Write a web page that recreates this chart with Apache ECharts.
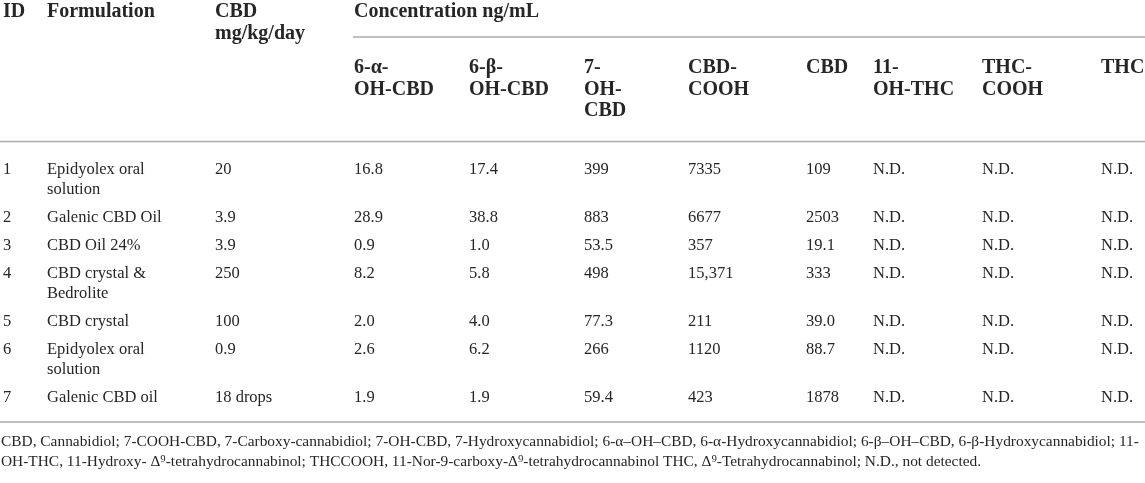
<!DOCTYPE html>
<html>
<head>
<meta charset="utf-8">
<script src="https://cdn.jsdelivr.net/npm/echarts@6/dist/echarts.min.js"></script>
<style>
  html, body { margin: 0; padding: 0; background: #fff; }
  #chart { width: 1145px; height: 483px; }
</style>
</head>
<body>
<div id="chart"></div>
<script>
// table content
const ids = ['1', '2', '3', '4', '5', '6', '7'];
const formulations = ['Epidyolex oral solution', 'Galenic CBD Oil', 'CBD Oil 24%', 'CBD crystal & Bedrolite',
    'CBD crystal', 'Epidyolex oral solution', 'Galenic CBD oil'];
const doses = ['20', '3.9', '3.9', '250', '100', '0.9', '18 drops'];
const alphaOhCbd = ['16.8', '28.9', '0.9', '8.2', '2.0', '2.6', '1.9'];
const betaOhCbd = ['17.4', '38.8', '1.0', '5.8', '4.0', '6.2', '1.9'];
const ohCbd7 = ['399', '883', '53.5', '498', '77.3', '266', '59.4'];
const cbdCooh = ['7335', '6677', '357', '15,371', '211', '1120', '423'];
const cbd = ['109', '2503', '19.1', '333', '39.0', '88.7', '1878'];
const ohThc11 = ['N.D.', 'N.D.', 'N.D.', 'N.D.', 'N.D.', 'N.D.', 'N.D.'];
const thcCooh = ['N.D.', 'N.D.', 'N.D.', 'N.D.', 'N.D.', 'N.D.', 'N.D.'];
const thc = ['N.D.', 'N.D.', 'N.D.', 'N.D.', 'N.D.', 'N.D.', 'N.D.'];

const topHeaders = ['ID', 'Formulation', 'CBD\nmg/kg/day', 'Concentration ng/mL'];
const subHeaders = ['6-α-\nOH-CBD', '6-β-\nOH-CBD', '7-\nOH-\nCBD', 'CBD-\nCOOH', 'CBD', '11-\nOH-THC', 'THC-\nCOOH', 'THC'];
const footnotes = [
    'CBD, Cannabidiol; 7-COOH-CBD, 7-Carboxy-cannabidiol; 7-OH-CBD, 7-Hydroxycannabidiol; 6-α–OH–CBD, 6-α-Hydroxycannabidiol; 6-β–OH–CBD, 6-β-Hydroxycannabidiol; 11-',
    'OH-THC, 11-Hydroxy- Δ⁹-tetrahydrocannabinol; THCCOOH, 11-Nor-9-carboxy-Δ⁹-tetrahydrocannabinol THC, Δ⁹-Tetrahydrocannabinol; N.D., not detected.'
];

// layout (pixels in the hidden axis space)
const colX = [3, 47, 215, 354, 469, 584, 688, 806, 873, 982, 1101];
const rowLines = [2, 1, 1, 2, 1, 2, 1];
const lineH = 20;
const rowGap = 28;
const firstRowY = 170;
const headLineH = 21.5;

const fontFamily = '"Liberation Serif", "Times New Roman", serif';
const ink = '#262626';
const ruleColor = '#ababab';

const columns = [ids, formulations, doses, alphaOhCbd, betaOhCbd, ohCbd7, cbdCooh, cbd, ohThc11, thcCooh, thc];

const cells = [];
// header
topHeaders.forEach((t, i) => {
    cells.push({x: colX[i], y: 12 - headLineH / 2, text: t, bold: true, size: 20, lh: headLineH});
});
subHeaders.forEach((t, i) => {
    cells.push({x: colX[i + 3], y: 68 - headLineH / 2, text: t, bold: true, size: 20, lh: headLineH});
});
// body
let y = firstRowY;
rowLines.forEach((n, r) => {
    columns.forEach((col, c) => {
        cells.push({x: colX[c], y: y - lineH / 2, text: col[r], bold: false, size: 16.5, lh: lineH,
            width: c === 1 ? 140 : null});
    });
    y += (n - 1) * lineH + rowGap;
});
const bottomRuleY = y - rowGap + 24;
footnotes.forEach((t, i) => {
    cells.push({x: 1, y: bottomRuleY + 20 + i * 19.5 - 10, text: t, bold: false, size: 15.4, lh: 20});
});

const rules = [
    [colX[3] - 1, 37, 1145],
    [0, 141.5, 1145],
    [0, bottomRuleY, 1145]
];

const myChart = echarts.init(document.getElementById('chart'));
let option;

option = {
    animation: false,
    grid: {left: 0, right: 0, top: 0, bottom: 0},
    xAxis: {type: 'value', min: 0, max: 1145, show: false},
    yAxis: {type: 'value', min: 0, max: 483, inverse: true, show: false},
    series: [
        {
            type: 'custom',
            data: rules,
            renderItem: (params, api) => {
                const a = api.coord([api.value(0), api.value(1)]);
                const b = api.coord([api.value(2), api.value(1)]);
                return {
                    type: 'line',
                    shape: {x1: a[0], y1: a[1], x2: b[0], y2: b[1]},
                    style: {stroke: ruleColor, lineWidth: 1.6}
                };
            }
        },
        {
            type: 'custom',
            data: cells.map(c => [c.x, c.y]),
            renderItem: (params, api) => {
                const c = cells[params.dataIndex];
                const p = api.coord([api.value(0), api.value(1)]);
                const style = {
                    text: c.text,
                    fill: ink,
                    fontFamily: fontFamily,
                    fontSize: c.size,
                    fontWeight: c.bold ? 'bold' : 'normal',
                    lineHeight: c.lh,
                    align: 'left',
                    verticalAlign: 'top'
                };
                if (c.width) {
                    style.width = c.width;
                    style.overflow = 'break';
                }
                return {type: 'text', x: p[0], y: p[1], style: style};
            }
        }
    ]
};
option && myChart.setOption(option);
</script>
</body>
</html>
